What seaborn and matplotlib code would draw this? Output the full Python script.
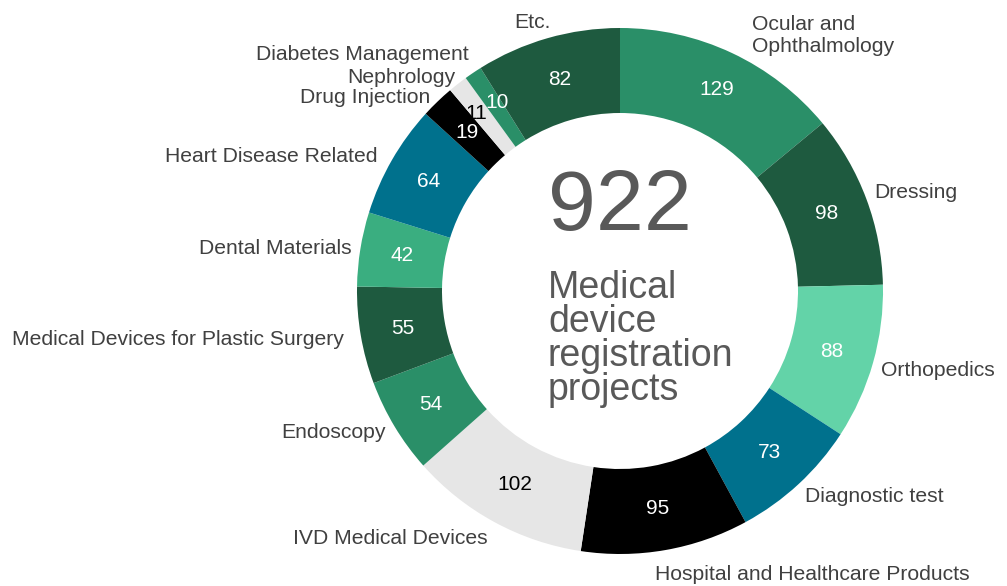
import numpy as np
import matplotlib.pyplot as plt
import seaborn as sns

# data, clockwise from 12 o'clock
categories = ["Ocular and\nOphthalmology", "Dressing", "Orthopedics", "Diagnostic test",
              "Hospital and Healthcare Products", "IVD Medical Devices", "Endoscopy",
              "Medical Devices for Plastic Surgery", "Dental Materials", "Heart Disease Related",
              "Drug Injection", "Nephrology", "Diabetes Management", "Etc."]
counts = [129, 98, 88, 73, 95, 102, 54, 55, 42, 64, 19, 11, 10, 82]
total_label = "922"
center_caption = "Medical\ndevice\nregistration\nprojects"

colors = ["#2a8f68", "#1e5a3f", "#63d3a8", "#00718d", "#000000", "#e6e6e6", "#2a8f68",
          "#1e5a3f", "#3aae80", "#00718d", "#000000", "#e6e6e6", "#2a8f68", "#1e5a3f"]
value_colors = ["white"] * 5 + ["black"] + ["white"] * 5 + ["black", "white", "white"]

sns.set_theme(style="white")
plt.rcParams['font.family'] = ['Liberation Sans', 'DejaVu Sans']

W, H = 1007, 586
S, CX, CY = 263.0, 620.0, 291.0  # ring radius and centre in pixels

fig = plt.figure(figsize=(W / 100, H / 100), dpi=100)
ax = fig.add_axes([0, 0, 1, 1])

ax.pie(counts, colors=sns.color_palette(colors), startangle=90, counterclock=False,
       radius=1, wedgeprops=dict(width=85 / S, edgecolor="none"))
ax.set_xlim(-CX / S, (W - CX) / S)
ax.set_ylim(-(H - CY) / S, CY / S)
ax.set_aspect("equal")
ax.axis("off")

# small nudges (pixels) for labels that sit off the plain radial spot
nudge = {"Ocular and\nOphthalmology": (16, -8), "Hospital and Healthcare Products": (-12, 14),
         "Diabetes Management": (2, -10), "Etc.": (-12, -6), "IVD Medical Devices": (-2, 7),
         "Medical Devices for Plastic Surgery": (-7, 2), "Heart Disease Related": (-5, 2),
         "Nephrology": (4, 2), "Drug Injection": (0, 3), "Diagnostic test": (-1, 5),
         "Orthopedics": (-2, 5), "Dressing": (-2, -3), "Dental Materials": (2, 1)}
value_nudge = {"Nephrology": (-8, -4), "Diabetes Management": (0, -6), "Ocular and\nOphthalmology": (3, -2)}

frac = np.cumsum([0] + counts) / sum(counts)
for i, (cat, v) in enumerate(zip(categories, counts)):
    mid = np.deg2rad(90 - 360 * (frac[i] + frac[i + 1]) / 2)
    c, s = np.cos(mid), np.sin(mid)
    # value inside ring
    vx, vy = value_nudge.get(cat, (0, 0))
    ax.text(0.838 * c + vx / S, 0.838 * s - vy / S, str(v), ha="center", va="center",
            fontsize=15, color=value_colors[i])
    # outer label
    dx, dy = nudge.get(cat, (0, 0))
    x = 1.04 * c + dx / S
    y = 1.04 * s - dy / S
    if abs(c) < 0.3 and s > 0:
        ha = "center"
    else:
        ha = "left" if c > 0 else "right"
    if cat.startswith("Hospital"):
        ha = "left"
    ax.text(x, y, cat, ha=ha, va="center", fontsize=15.2, color="#404040", linespacing=1.2)

ax.text((548 - CX) / S, (CY - 208) / S, total_label, ha="left", va="center",
        fontsize=62, color="#595959", fontstretch="condensed")
ax.text((548 - CX) / S, (CY - 339) / S, center_caption, ha="left", va="center",
        fontsize=27, color="#595959", linespacing=0.92)

plt.savefig("out.png", dpi=100)
